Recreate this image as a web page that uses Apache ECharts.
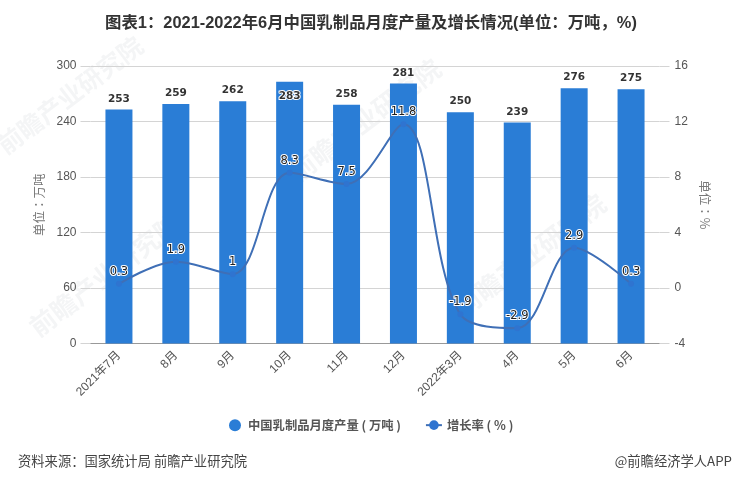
<!DOCTYPE html>
<html><head><meta charset="utf-8">
<style>html,body{margin:0;padding:0;background:#fff}#c{width:736px;height:483px}</style>
<script src="https://cdn.jsdelivr.net/npm/echarts@6/dist/echarts.min.js"></script>
</head><body><div id="c"></div>
<script>
const categories = ['2021年7月','8月','9月','10月','11月','12月','2022年3月','4月','5月','6月'];
const output = [253,259,262,283,258,281,250,239,276,275];
const growth = [0.3,1.9,1,8.3,7.5,11.8,-1.9,-2.9,2.9,0.3];
const leftTicks = [0,60,120,180,240,300];
const rightTicks = [-4,0,4,8,12,16];
const insideLabelMonths = ['10月'];
const FONT = '"Liberation Sans","Noto Sans CJK SC",sans-serif';
const wm = (x,y,size)=>({type:'text',x,y,rotation:0.65,z:-1,silent:true,
  style:{text:'前瞻产业研究院',font:'bold '+size+'px "Noto Sans CJK SC"',fill:'rgba(60,70,90,0.055)',textAlign:'center',textVerticalAlign:'middle'}});
const chart = echarts.init(document.getElementById('c'),null,{renderer:'canvas'});
chart.setOption({
  animation:false,
  backgroundColor:'#fff',
  title:{text:'图表1：2021-2022年6月中国乳制品月度产量及增长情况(单位：万吨，%)',left:100,top:10,
    textStyle:{fontSize:16.4,fontWeight:'bold',color:'#333',fontFamily:FONT}},
  graphic:[wm(70,95,25),wm(365,120,26),wm(530,255,26),wm(105,275,26),
    {type:'text',left:18,top:454,style:{text:'资料来源：国家统计局 前瞻产业研究院',font:'13.3px "Noto Sans CJK SC"',fill:'#444'}},
    {type:'text',right:4,top:454,style:{text:'@前瞻经济学人APP',font:'13.3px "Noto Sans CJK SC"',fill:'#444'}}],
  legend:{top:414,left:224,itemGap:24,itemWidth:16,itemHeight:12,
    textStyle:{fontSize:12.3,fontWeight:'bold',color:'#555',fontFamily:'"Noto Sans CJK SC"'},
    data:[{name:'中国乳制品月度产量 ( 万吨 )',icon:'circle'},{name:'增长率 ( % )'}]},
  grid:{left:90.5,right:76.5,top:66,bottom:139.5},
  xAxis:{type:'category',data:categories,
    axisLine:{lineStyle:{color:'#999',width:1}},axisTick:{length:6,alignWithLabel:true,lineStyle:{color:'#999'}},
    axisLabel:{rotate:45,color:'#555',fontSize:12,interval:0,margin:10,fontFamily:FONT}},
  yAxis:[
   {type:'value',min:leftTicks[0],max:leftTicks[leftTicks.length-1],interval:60,name:'单位：万吨',nameLocation:'middle',nameGap:44,nameRotate:90,
    nameTextStyle:{color:'#777',fontSize:12.5,fontFamily:'"Noto Sans CJK TC"'},
    axisLine:{show:false},axisTick:{show:true,length:10,lineStyle:{color:'#d4d4d4'}},
    axisLabel:{color:'#555',fontSize:12,margin:14,fontFamily:FONT},
    splitLine:{lineStyle:{color:'#d4d4d4',width:1}}},
   {type:'value',min:rightTicks[0],max:rightTicks[rightTicks.length-1],interval:4,name:'单位：%',nameLocation:'middle',nameGap:38,nameRotate:-90,
    nameTextStyle:{color:'#777',fontSize:12.5,fontFamily:'"Noto Sans CJK TC"'},
    axisLine:{show:false},axisTick:{show:true,length:10,lineStyle:{color:'#d4d4d4'}},
    axisLabel:{color:'#555',fontSize:12,margin:15,fontFamily:FONT},
    splitLine:{show:false}}],
  series:[
   {name:'中国乳制品月度产量 ( 万吨 )',type:'bar',barWidth:27,
    itemStyle:{color:'#2a7dd6'},
    data:output.map((v,i)=>insideLabelMonths.includes(categories[i])
      ?{value:v,label:{position:'insideTop',distance:9,textBorderColor:'#fff',textBorderWidth:2}}:v),
    label:{show:true,position:'top',distance:5,color:'#333',fontSize:10.5,fontWeight:'bold',fontFamily:'"DejaVu Sans"'}},
   {name:'增长率 ( % )',type:'line',yAxisIndex:1,smooth:0.35,data:growth,
    symbol:'circle',symbolSize:6,
    lineStyle:{color:'#3f6fb6',width:2},
    itemStyle:{color:'#2f74d0'},
    label:{show:true,position:'top',distance:3,color:'#222',fontSize:11.5,fontFamily:'"DejaVu Sans"',textBorderColor:'#fff',textBorderWidth:2}}
  ]
});
</script></body></html>
